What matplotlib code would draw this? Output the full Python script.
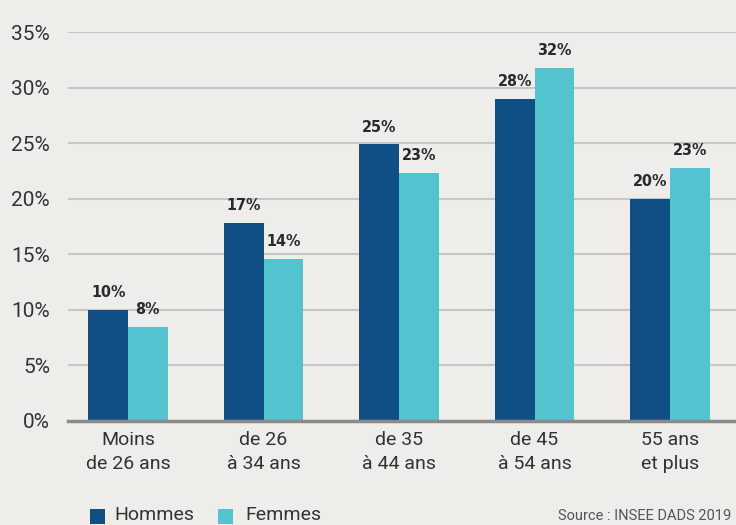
import matplotlib
matplotlib.use("Agg")
import matplotlib.pyplot as plt
from matplotlib.patches import Rectangle
import numpy as np

categories = ["Moins\nde 26 ans", "de 26\nà 34 ans", "de 35\nà 44 ans", "de 45\nà 54 ans", "55 ans\net plus"]
hommes = [10.0, 17.8, 24.9, 29.0, 20.0]
femmes = [8.5, 14.6, 22.3, 31.8, 22.8]
hommes_labels = ["10%", "17%", "25%", "28%", "20%"]
femmes_labels = ["8%", "14%", "23%", "32%", "23%"]
series_names = ["Hommes", "Femmes"]
yticks = [0, 5, 10, 15, 20, 25, 30, 35]
source = "Source : INSEE DADS 2019"

BG = "#eeedea"
C_H = "#104e86"
C_F = "#53c4cf"
TXT = "#333333"
REG = ["Roboto", "DejaVu Sans"]

fig = plt.figure(figsize=(7.36, 5.25), dpi=100, facecolor=BG)
ax = fig.add_axes([68/736, 1-421/525, 1-68/736, (421-32)/525], facecolor=BG)

x = np.arange(len(categories))
w = 0.292
bh = ax.bar(x - w/2, hommes, w, color=C_H, zorder=3)
bf = ax.bar(x + w/2, femmes, w, color=C_F, zorder=3)

for rects, labs in ((bh, hommes_labels), (bf, femmes_labels)):
    for r, lab in zip(rects, labs):
        ax.annotate(lab, (r.get_x() + r.get_width()/2, r.get_height()),
                    xytext=(0, 7), textcoords="offset points",
                    ha="center", va="bottom", fontsize=11.5, fontweight="bold",
                    fontstretch="condensed", color="#2a2a2a", family="DejaVu Sans")

ax.set_xlim(-0.443, 4.487)
ax.set_ylim(0, 35)
ax.set_yticks(yticks)
ax.set_yticklabels([f"{v}%" for v in yticks], fontsize=15, color=TXT, family=REG)
ax.set_xticks(x)
ax.set_xticklabels(categories, fontsize=14, color=TXT, family=REG, linespacing=1.45)
ax.tick_params(axis="both", length=0)
ax.tick_params(axis="y", pad=13)
ax.tick_params(axis="x", pad=7)

ax.grid(axis="y", color="#c6c6c6", linewidth=1.5, zorder=0)
for s in ("top", "right", "left"):
    ax.spines[s].set_visible(False)
ax.spines["bottom"].set_color("#8a8a8a")
ax.spines["bottom"].set_linewidth(2.5)
ax.spines["bottom"].set_zorder(4)

# legend
fig.patches.append(Rectangle((90/736, 1-524/525), 15/736, 15/525, transform=fig.transFigure,
                             facecolor=C_H, edgecolor="none"))
fig.text(114/736, 1-515/525, series_names[0], fontsize=14, color=TXT, family=REG, va="center", ha="left")
fig.patches.append(Rectangle((218/736, 1-524/525), 15/736, 15/525, transform=fig.transFigure,
                             facecolor=C_F, edgecolor="none"))
fig.text(245/736, 1-515/525, series_names[1], fontsize=14, color=TXT, family=REG, va="center", ha="left")

fig.text(558/736, 1-516/525, source, fontsize=10.5, color="#555555", family=REG, va="center", ha="left")

fig.savefig("out.png", dpi=100, facecolor=BG)
